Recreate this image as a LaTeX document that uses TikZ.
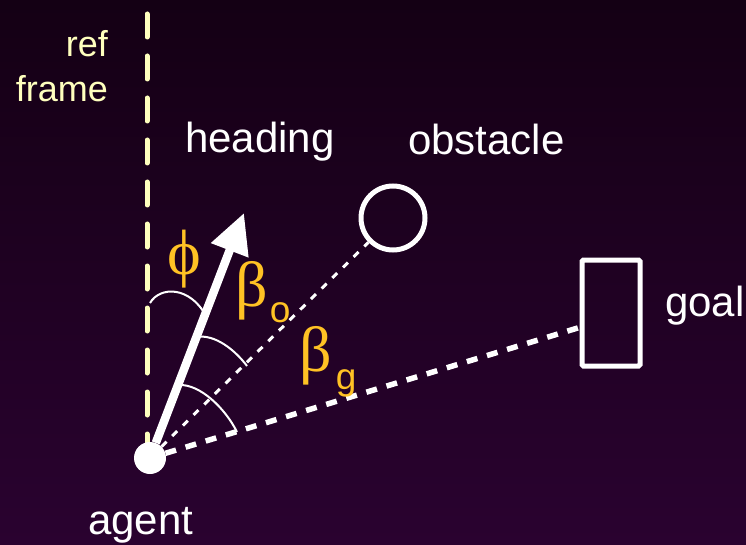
\documentclass[tikz,border=0pt]{standalone}
\usepackage{fontspec}
\setmainfont{Liberation Sans}
\newfontfamily\grk{Liberation Serif}
\usetikzlibrary{arrows.meta,calc}
\definecolor{bgtop}{RGB}{20,0,20}
\definecolor{bgbot}{RGB}{42,2,48}
\definecolor{cream}{RGB}{255,255,190}
\definecolor{gold}{RGB}{255,194,36}
\newcommand\subtxt[2]{\raisebox{-#1}{\normalfont\fontsize{37}{40}\selectfont #2}}
\begin{document}
\begin{tikzpicture}[x=1pt,y=-1pt,
  lbl/.style={text=white,inner sep=0pt,anchor=base west,font=\fontsize{42}{46}\selectfont},
  reflbl/.style={text=cream,inner sep=0pt,anchor=base east,font=\fontsize{36}{40}\selectfont},
  greek/.style={text=gold,inner sep=0pt,anchor=base west,font=\fontsize{64}{66}\grk},
  angarc/.style={draw=white,line width=2pt},
  thinray/.style={draw=white,line width=3pt,dash pattern=on 7pt off 8pt},
  thickray/.style={draw=white,line width=5.5pt,dash pattern=on 11pt off 10pt},
  reflinestyle/.style={draw=cream,line width=5pt,line cap=round,dash pattern=on 23pt off 19pt}]
\useasboundingbox (0,0) rectangle (746,545);
\shade[top color=bgtop,bottom color=bgbot] (0,0) rectangle (746,545);

% reference frame
\coordinate (reftop) at (147,14);
\coordinate (refbot) at (147,466);
\draw[reflinestyle] (reftop) -- (refbot);

% objects
\node[circle,fill=white,minimum size=32pt,inner sep=0pt] (agent) at (150,458) {};
\node[circle,draw=white,line width=5pt,minimum size=64pt,inner sep=0pt] (obstacle) at (393,218) {};
\node[rectangle,draw=white,line width=5pt,rounded corners=1.5pt,minimum width=58pt,minimum height=106pt,inner sep=0pt] (goal) at (611,313) {};
\coordinate (htip) at (244,213);
\coordinate (gend) at ($(goal.south west)!0.37!(goal.north west)$);

% rays
\draw[thinray] (agent) -- (obstacle);
\draw[thickray] (agent) -- (gend);
\draw[white,line width=8.5pt,-{Triangle[length=40pt,width=38pt]}] (agent) -- (htip);

% angle arcs
\draw[angarc] (150,303) .. controls (160,286) and (190,286) .. (206,316);
\draw[angarc] (197,337) .. controls (215,334) and (235,350) .. (247,366);
\draw[angarc] (179,385) .. controls (200,384) and (225,408) .. (237,432);

% labels
\node[reflbl] (reftxt) at (108,57) {ref};
\node[reflbl] (frametxt) at (108,102) {frame};
\node[lbl] (headtxt) at (185,153) {heading};
\node[lbl] (obstxt) at (408,155) {obstacle};
\node[lbl] (goaltxt) at (665,316) {goal};
\node[lbl] (agenttxt) at (88,534) {agent};
\node[greek] (phitxt) at (167,274) {ϕ};
\node[greek] (botxt) at (235,306) {β\kern2pt\subtxt{16pt}{o}};
\node[greek] (bgtxt) at (299,371) {β\kern4pt\subtxt{18pt}{g}};
\end{tikzpicture}
\end{document}
